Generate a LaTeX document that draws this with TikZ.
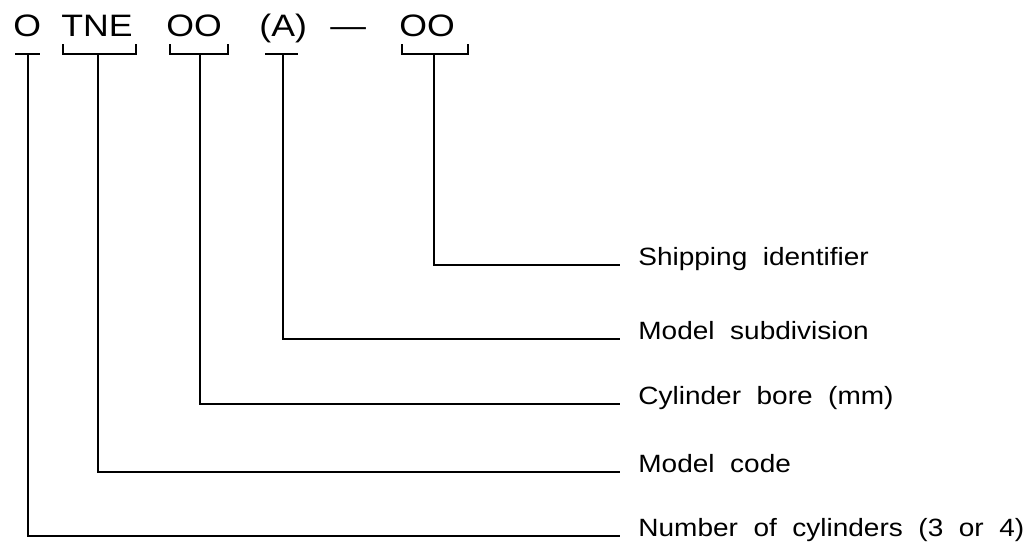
\documentclass[tikz,border=0pt]{standalone}
\usepackage{fontspec}
\setmainfont{Liberation Sans}
\newfontfamily\headfont[FakeStretch=1.15]{Liberation Sans}
\newfontfamily\labfont[FakeStretch=1.12,WordSpace=2]{Liberation Sans}
\usetikzlibrary{positioning}
\tikzset{
  head/.style={anchor=base west,inner sep=0pt,font=\headfont\fontsize{15.5}{18}\selectfont},
  lab/.style={anchor=base west,inner xsep=9pt,inner ysep=0pt,font=\labfont\fontsize{12.5}{14}\selectfont},
  brk/.style={line width=1.1pt},
  lead/.style={line width=1.1pt},
}

\begin{document}
\begin{tikzpicture}[x=0.5pt,y=-0.5pt]
  \useasboundingbox (0,0) rectangle (1025,557);
  % type code
  \node[head] (num) at (13,37) {O};
  \node[head] (code) at (61,37) {TNE};
  \node[head] (bore) at (166,37) {OO};
  \node[head] (sub) at (259,37) {(A)};
  \node[head] (dash) at (330,37) {—};
  \node[head] (ship) at (399,37) {OO};
  % meanings
  \node[lab] (lship) at (620,265) {Shipping identifier};
  \node[lab] (lsub) at (620,339) {Model subdivision};
  \node[lab] (lbore) at (620,404) {Cylinder bore (mm)};
  \node[lab] (lcode) at (620,472) {Model code};
  \node[lab] (lnum) at (620,536) {Number of cylinders (3 or 4)};
  % brackets under the code
  \draw[brk] (15,54) -- (40,54);
  \draw[brk] (63,44) |- (136,54) -- (136,44);
  \draw[brk] (170,44) |- (228,54) -- (228,44);
  \draw[brk] (265,54) -- (298,54);
  \draw[brk] (402,44) |- (468,54) -- (468,44);
  \coordinate (bnum) at (28,54);
  \coordinate (bcode) at (98,54);
  \coordinate (bbore) at (200,54);
  \coordinate (bsub) at (283,54);
  \coordinate (bship) at (434,54);
  % leaders
  \draw[lead] (bship) |- (lship.base west);
  \draw[lead] (bsub) |- (lsub.base west);
  \draw[lead] (bbore) |- (lbore.base west);
  \draw[lead] (bcode) |- (lcode.base west);
  \draw[lead] (bnum) |- (lnum.base west);
\end{tikzpicture}
\end{document}
